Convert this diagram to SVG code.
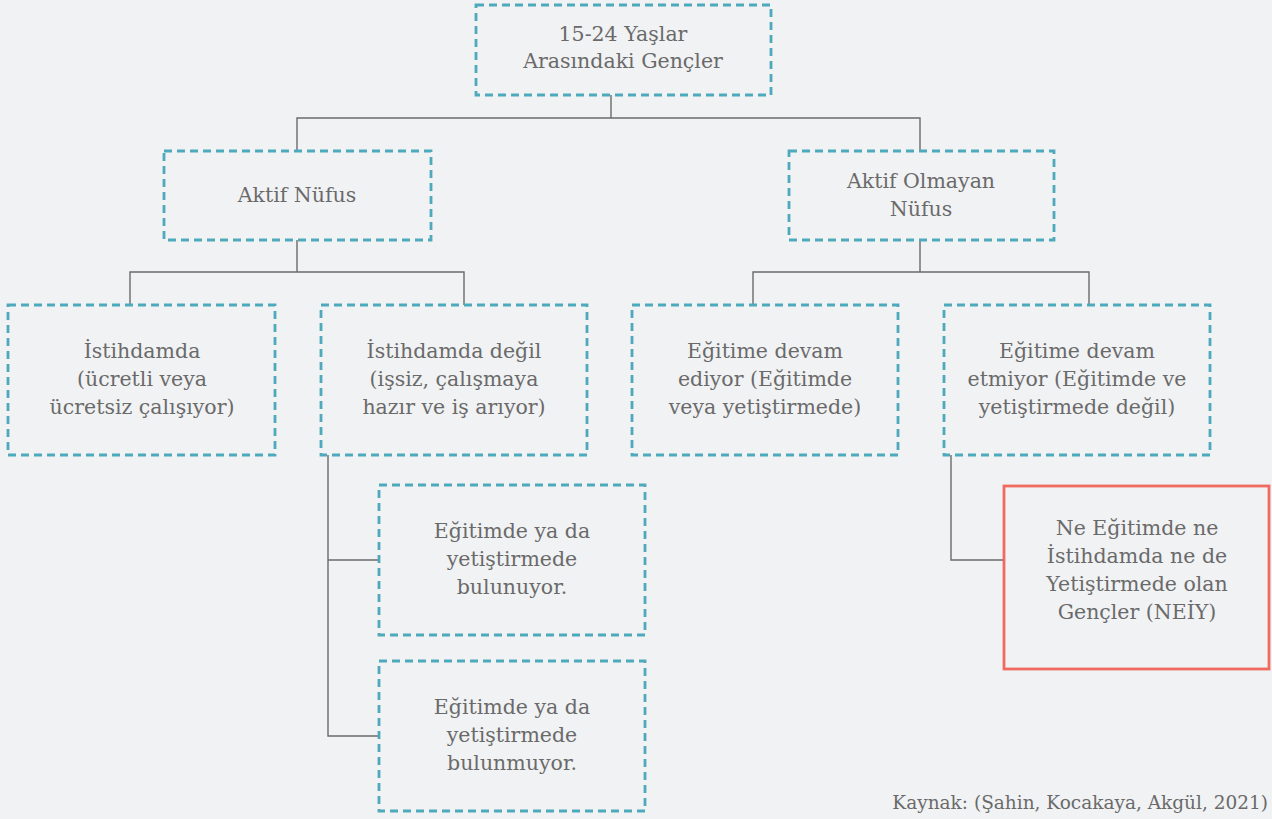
<svg xmlns="http://www.w3.org/2000/svg" width="1272" height="819" viewBox="0 0 1272 819">
<style>
.bx{fill:none;stroke:#4ea9bd;stroke-width:2.8;stroke-dasharray:8 5}
.red{fill:none;stroke:#f06a60;stroke-width:2.8}
.ln{fill:none;stroke:#6b6b6b;stroke-width:1.4}
text{font-family:"DejaVu Serif","Liberation Serif",serif;font-size:20.5px;fill:#6a6a6a;text-anchor:middle}
</style>
<rect width="1272" height="819" fill="#f1f2f4"/>
<g id="connectors">
<path class="ln" d="M611 95V118M297 151V118H920V151"/>
<path class="ln" d="M297 240V272M130 305V272H464V305"/>
<path class="ln" d="M920 240V272M753 305V272H1089V305"/>
<path class="ln" d="M328 455V736H379M328 560H379"/>
<path class="ln" d="M951 455V560H1003"/>
</g>
<g id="n-top"><rect class="bx" x="476" y="5" width="295" height="90"/><text x="623" y="41">15-24 Yaşlar</text><text x="623" y="68">Arasındaki Gençler</text></g>
<g id="n-aktif"><rect class="bx" x="164" y="151" width="267" height="89"/><text x="297" y="202">Aktif Nüfus</text></g>
<g id="n-aktifolmayan"><rect class="bx" x="789" y="151" width="265" height="89"/><text x="921" y="188">Aktif Olmayan</text><text x="921" y="216">Nüfus</text></g>
<g id="n-istihdamda"><rect class="bx" x="8" y="305" width="267" height="150"/><text x="142" y="358">İstihdamda</text><text x="142" y="386">(ücretli veya</text><text x="142" y="414">ücretsiz çalışıyor)</text></g>
<g id="n-istihdamdadegil"><rect class="bx" x="321" y="305" width="266" height="150"/><text x="454" y="358">İstihdamda değil</text><text x="454" y="386">(işsiz, çalışmaya</text><text x="454" y="414">hazır ve iş arıyor)</text></g>
<g id="n-egitimedevam"><rect class="bx" x="632" y="305" width="266" height="150"/><text x="765" y="358">Eğitime devam</text><text x="765" y="386">ediyor (Eğitimde</text><text x="765" y="414">veya yetiştirmede)</text></g>
<g id="n-egitimedevametmiyor"><rect class="bx" x="944" y="305" width="266" height="150"/><text x="1077" y="358">Eğitime devam</text><text x="1077" y="386">etmiyor (Eğitimde ve</text><text x="1077" y="414">yetiştirmede değil)</text></g>
<g id="n-bulunuyor"><rect class="bx" x="379" y="485" width="266" height="150"/><text x="512" y="538">Eğitimde ya da</text><text x="512" y="566">yetiştirmede</text><text x="512" y="594">bulunuyor.</text></g>
<g id="n-bulunmuyor"><rect class="bx" x="379" y="661" width="266" height="150"/><text x="512" y="714">Eğitimde ya da</text><text x="512" y="742">yetiştirmede</text><text x="512" y="770">bulunmuyor.</text></g>
<g id="n-neiy"><rect class="red" x="1004" y="486" width="265" height="183"/><text x="1137" y="535">Ne Eğitimde ne</text><text x="1137" y="563">İstihdamda ne de</text><text x="1137" y="591">Yetiştirmede olan</text><text x="1137" y="619">Gençler (NEİY)</text></g>
<text x="1268" y="809" style="text-anchor:end;font-size:18.5px">Kaynak: (Şahin, Kocakaya, Akgül, 2021)</text>
</svg>
